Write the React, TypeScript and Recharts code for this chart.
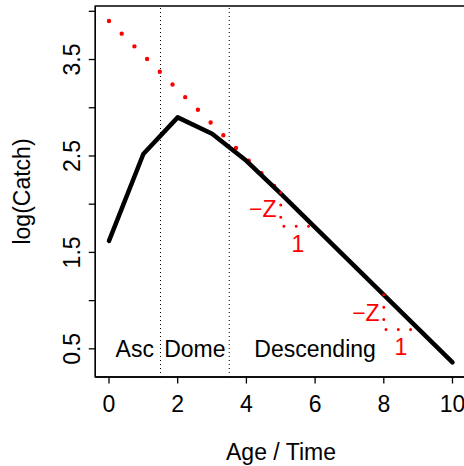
import React from 'react';
import { ComposedChart, Line, Scatter, XAxis, YAxis, ReferenceLine, ReferenceArea, Label } from 'recharts';

// catch curve
const ages = [0, 1, 2, 3, 4, 5, 6, 7, 8, 9, 10];
const logCatch = [1.62, 2.52, 2.9, 2.73, 2.45, 2.11, 1.76, 1.41, 1.06, 0.71, 0.36];

// fully selected slope (-Z) line
const zAges = [0, 5];
const zLog = [3.9, 2.12];

// slope triangles
const tri1X = [5, 5, 6];
const tri1Y = [2.12, 1.77, 1.77];
const tri2X = [8, 8, 9];
const tri2Y = [1.06, 0.7, 0.7];

// phase boundaries and labels
const phaseBreaks = [1.5, 3.5];
const phaseNames = ['Asc', 'Dome', 'Descending'];
const phaseX = [0.75, 2.5, 6];
const phaseY = [0.5, 0.5, 0.5];

const zText = ['\u2212Z', '\u2212Z'];
const zTextX = [4.875, 7.88];
const zTextY = [1.95, 0.87];
const oneText = ['1', '1'];
const oneTextX = [5.5, 8.5];
const oneTextY = [1.59, 0.52];

const xTicks = [0, 2, 4, 6, 8, 10];
const yTicks = [0.5, 1, 1.5, 2, 2.5, 3, 3.5, 4];
const yLabelled = [0.5, 1.5, 2.5, 3.5];

const pts = (xs: number[], ys: number[]) => xs.map((x, i) => ({ x, y: ys[i] }));
const notes = (xs: number[], ys: number[], t: string[]) => xs.map((x, i) => ({ x, y: ys[i], t: t[i] }));

const catchData = pts(ages, logCatch);
const zData = pts(zAges, zLog);
const tri1 = pts(tri1X, tri1Y);
const tri2 = pts(tri2X, tri2Y);
const phaseNotes = notes(phaseX, phaseY, phaseNames);
const zNotes = notes(zTextX, zTextY, zText);
const oneNotes = notes(oneTextX, oneTextY, oneText);

const FONT = '"Liberation Sans", Arial, Helvetica, sans-serif';
const FS = 23;

const XTick = (props: any) => (
  <text x={props.x} y={411.7} textAnchor="middle" fontSize={FS} fontFamily={FONT} fill="#000">
    {props.payload.value}
  </text>
);

const YTick = (props: any) => {
  const v = props.payload.value;
  if (!yLabelled.includes(v)) return <g />;
  return (
    <text x={80} y={props.y} transform={`rotate(-90, 80, ${props.y})`} textAnchor="middle"
      fontSize={FS} fontFamily={FONT} fill="#000">
      {v.toFixed(1)}
    </text>
  );
};

const noteShape = (color: string, anchor: string) => (p: any) => (
  <text x={p.cx} y={p.cy} textAnchor={anchor} dominantBaseline="central" fontSize={FS} fontFamily={FONT} fill={color}>
    {p.payload.t}
  </text>
);

export default function App() {
  return (
    <div style={{ position: 'absolute', left: 0, top: 0, width: 464, height: 466, overflow: 'hidden', background: '#fff' }}>
      <ComposedChart width={480} height={466} margin={{ top: 6, right: 13.76, bottom: 59, left: 35.26 }}>
        <XAxis type="number" dataKey="x" domain={[-0.4, 10.4]} ticks={xTicks} allowDataOverflow
          height={30} tickSize={6.5} tick={<XTick />}
          axisLine={{ stroke: '#000', strokeWidth: 1.3 }} tickLine={{ stroke: '#000', strokeWidth: 1.3 }}>
          <Label content={() => (
            <text x={281} y={460} textAnchor="middle" fontSize={FS} fontFamily={FONT} fill="#000">Age / Time</text>
          )} />
        </XAxis>
        <YAxis type="number" dataKey="y" domain={[0.208, 4.055]} ticks={yTicks} allowDataOverflow
          width={60} tickSize={6.5} tick={<YTick />}
          axisLine={{ stroke: '#000', strokeWidth: 1.3 }} tickLine={{ stroke: '#000', strokeWidth: 1.3 }}>
          <Label content={() => (
            <text x={29.5} y={191.5} transform="rotate(-90, 29.5, 191.5)" textAnchor="middle"
              fontSize={FS} fontFamily={FONT} fill="#000">log(Catch)</text>
          )} />
        </YAxis>
        <ReferenceArea x1={-0.4} x2={10.4} y1={0.208} y2={4.055} ifOverflow="visible"
          fill="none" stroke="#000" strokeWidth={1.3} />
        {phaseBreaks.map((b) => (
          <ReferenceLine key={b} x={b} stroke="#000" strokeWidth={1} strokeDasharray="1 3" />
        ))}
        <Line data={zData} dataKey="y" type="linear" stroke="#ff0000" strokeWidth={4.4}
          strokeDasharray="0 17.96" strokeLinecap="round" dot={false} isAnimationActive={false} />
        <Line data={catchData} dataKey="y" type="linear" stroke="#000" strokeWidth={4.5}
          strokeLinecap="round" strokeLinejoin="round" dot={false} isAnimationActive={false} />
        <Line data={tri1} dataKey="y" type="linear" stroke="#ff0000" strokeWidth={3}
          strokeDasharray="0 12.3" strokeLinecap="round" dot={false} isAnimationActive={false} />
        <Line data={tri2} dataKey="y" type="linear" stroke="#ff0000" strokeWidth={3}
          strokeDasharray="0 12.3" strokeLinecap="round" dot={false} isAnimationActive={false} />
        <Scatter data={phaseNotes} dataKey="y" shape={noteShape('#000', 'middle')} isAnimationActive={false} />
        <Scatter data={zNotes} dataKey="y" shape={noteShape('#ff0000', 'end')} isAnimationActive={false} />
        <Scatter data={oneNotes} dataKey="y" shape={noteShape('#ff0000', 'middle')} isAnimationActive={false} />
      </ComposedChart>
    </div>
  );
}
